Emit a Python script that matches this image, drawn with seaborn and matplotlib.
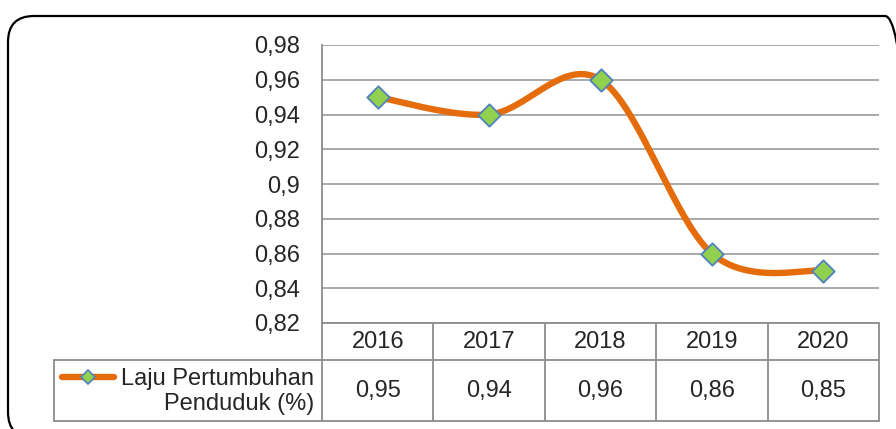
import matplotlib
matplotlib.use("Agg")
import matplotlib.pyplot as plt
from matplotlib.patches import FancyBboxPatch
from matplotlib.transforms import IdentityTransform
import seaborn as sns
import pandas as pd
import numpy as np

# data
years = ["2016", "2017", "2018", "2019", "2020"]
laju = [0.95, 0.94, 0.96, 0.86, 0.85]
series_name = "Laju Pertumbuhan\nPenduduk (%)"
y_ticks = [0.82, 0.84, 0.86, 0.88, 0.90, 0.92, 0.94, 0.96, 0.98]

ORANGE = "#E46C0A"
GREEN = "#92D050"
BLUE = "#4F81BD"
GRID = "#a3a3a3"
TABLE = "#8c8c8c"


def smooth_curve(xs, ys, n=40):
    """Catmull-Rom style smoothing (like Excel's smoothed line)"""
    pts = np.column_stack([xs, ys]).astype(float)
    ext = np.vstack([pts[0], pts, pts[-1]])
    out = []
    for i in range(len(pts) - 1):
        p0, p1, p2, p3 = ext[i], ext[i + 1], ext[i + 2], ext[i + 3]
        b1 = p1 + (p2 - p0) / 6
        b2 = p2 - (p3 - p1) / 6
        t = np.linspace(0, 1, n)[:, None]
        seg = ((1 - t) ** 3) * p1 + 3 * ((1 - t) ** 2) * t * b1 \
            + 3 * (1 - t) * t ** 2 * b2 + t ** 3 * p2
        out.append(seg if i == 0 else seg[1:])
    curve = np.vstack(out)
    return curve[:, 0], curve[:, 1]


sns.set_style("white")
plt.rcParams["font.family"] = ["Liberation Sans", "DejaVu Sans"]

W, H = 896, 429
fig = plt.figure(figsize=(W / 100, H / 100), dpi=100)

# layout in pixels
L, R, T, B = 322, 879, 45, 323
ROW1, ROW2 = 360, 421
LEG_L = 54

ax = fig.add_axes([L / W, 1 - B / H, (R - L) / W, (B - T) / H])
df = pd.DataFrame({"year": years, "idx": np.arange(len(years)), "laju": laju})

sx, sy = smooth_curve(df["idx"].values, df["laju"].values)
smooth_df = pd.DataFrame({"x": sx, "y": sy})
sns.lineplot(data=smooth_df, x="x", y="y", ax=ax, color=ORANGE, lw=4.6,
             sort=False, estimator=None, zorder=3)
sns.scatterplot(data=df, x="idx", y="laju", ax=ax, marker="D", s=130,
                color=GREEN, edgecolor=BLUE, linewidth=1.3, zorder=4)

ax.set_xlim(-0.5, len(years) - 0.5)
ax.set_ylim(0.82, 0.98)
ax.set_yticks(y_ticks)
ax.set_yticklabels([f"{v:g}".replace(".", ",") for v in y_ticks], fontsize=17)
ax.set_xticks([])
ax.tick_params(axis="y", length=0, pad=16)
ax.set_xlabel("")
ax.set_ylabel("")
ax.grid(axis="y", color=GRID, lw=1.3)
for s in ["top", "right", "bottom"]:
    ax.spines[s].set_visible(False)
ax.spines["left"].set_color(TABLE)
ax.spines["left"].set_linewidth(1.3)

# overlay for the data table and frame
ov = fig.add_axes([0, 0, 1, 1])
ov.set_xlim(0, W)
ov.set_ylim(H, 0)
ov.axis("off")
ov.patch.set_alpha(0)

col_w = (R - L) / len(years)
edges = [L + i * col_w for i in range(len(years) + 1)]
kw = dict(color=TABLE, lw=1.3)
ov.plot([L, R], [B, B], **kw)
ov.plot([LEG_L, R], [ROW1, ROW1], **kw)
ov.plot([LEG_L, R], [ROW2, ROW2], **kw)
ov.plot([LEG_L, LEG_L], [ROW1, ROW2], **kw)
for e in edges:
    ov.plot([e, e], [B, ROW2], **kw)

for i, (yr, v) in enumerate(zip(years, laju)):
    cx = (edges[i] + edges[i + 1]) / 2
    ov.text(cx, (B + ROW1) / 2 + 1, yr, ha="center", va="center", fontsize=17)
    ov.text(cx, (ROW1 + ROW2) / 2, f"{v:g}".replace(".", ","),
            ha="center", va="center", fontsize=17)

# legend key inside the table
ky = 377
ov.plot([62, 114], [ky, ky], color=ORANGE, lw=4.6, solid_capstyle="round")
ov.plot([88], [ky], marker="D", ms=7.5, color=GREEN, mec=BLUE, mew=1.2)
ov.text(314, (ROW1 + ROW2) / 2 + 1, series_name, ha="right", va="center",
        fontsize=17, multialignment="right", linespacing=1.2)

# rounded chart frame (pixel coords, origin bottom-left)
frame = FancyBboxPatch((8, H - 438), 903, 422,
                       boxstyle="round,pad=0,rounding_size=26",
                       fill=False, ec="black", lw=1.6,
                       transform=IdentityTransform(), clip_on=False)
fig.patches.append(frame)

fig.savefig("out.png", dpi=100)
